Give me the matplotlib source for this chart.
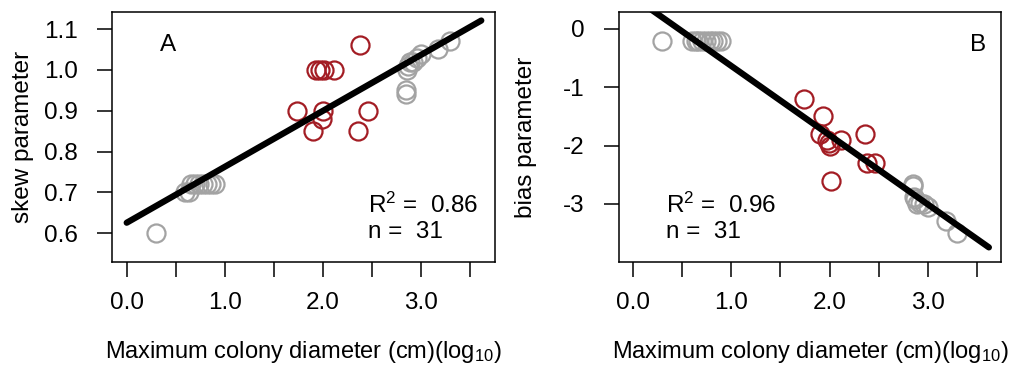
import matplotlib
matplotlib.use("Agg")
import matplotlib.pyplot as plt
import numpy as np

plt.rcParams['font.family'] = ['Liberation Sans', 'DejaVu Sans']
plt.rcParams['mathtext.fontset'] = 'custom'
plt.rcParams['mathtext.rm'] = 'Liberation Sans'
plt.rcParams['mathtext.it'] = 'Liberation Sans:italic'

# ---- data ----
grey_x = [0.30, 0.60, 0.64, 0.66, 0.70, 0.74, 0.78, 0.82, 0.86, 0.90,
          2.85, 2.85, 2.86, 2.87, 2.89, 2.92, 2.96, 3.00, 3.18, 3.30]
grey_skew = [0.60, 0.70, 0.70, 0.72, 0.72, 0.72, 0.72, 0.72, 0.72, 0.72,
             0.94, 0.95, 1.00, 1.01, 1.02, 1.02, 1.03, 1.04, 1.05, 1.07]
grey_bias = [-0.2, -0.2, -0.2, -0.2, -0.2, -0.2, -0.2, -0.2, -0.2, -0.2,
             -2.65, -2.70, -2.88, -2.92, -3.00, -2.98, -3.00, -3.05, -3.30, -3.50]

red_x = [1.74, 1.90, 1.93, 1.97, 1.99, 2.00, 2.01, 2.12, 2.36, 2.38, 2.46]
red_skew = [0.90, 0.85, 1.00, 1.00, 0.88, 0.90, 1.00, 1.00, 0.85, 1.06, 0.90]
red_bias = [-1.2, -1.8, -1.5, -1.9, -1.95, -2.0, -2.6, -1.9, -1.8, -2.3, -2.3]

line_x = [0.0, 3.62]
skew_fit = (0.626, 0.1367)   # intercept, slope
bias_fit = (0.556, -1.188)

x_ticks = [0.0, 0.5, 1.0, 1.5, 2.0, 2.5, 3.0, 3.5]
x_tick_labels = ['0.0', '', '1.0', '', '2.0', '', '3.0', '']
skew_ticks = [0.6, 0.7, 0.8, 0.9, 1.0, 1.1]
skew_tick_labels = ['0.6', '0.7', '0.8', '0.9', '1.0', '1.1']
bias_ticks = [0, -1, -2, -3]
bias_tick_labels = ['0', '-1', '-2', '-3']

stats_A = ('0.86', '31')
stats_B = ('0.96', '31')

GREY = '#a3a3a3'
RED = '#a31d24'
FS = 17.5

W, H = 1013, 366
fig = plt.figure(figsize=(W / 100, H / 100), dpi=100)

def add_ax(l, r, t, b):
    return fig.add_axes([l / W, 1 - b / H, (r - l) / W, (b - t) / H])

axA = add_ax(112.3, 495, 12.3, 261.7)
axB = add_ax(619, 1000.7, 12.3, 261.7)

def style(ax, yticks, ylabels, ylab, ylab_x):
    ax.set_xticks(x_ticks)
    ax.set_xticklabels(x_tick_labels)
    ax.set_yticks(yticks)
    ax.set_yticklabels(ylabels)
    ax.tick_params(direction='out', length=11, width=1.1, labelsize=FS, pad=11)
    ax.tick_params(axis='y', pad=14)
    for s in ax.spines.values():
        s.set_linewidth(1.1)
    ax.set_xlabel('Maximum colony diameter (cm)(log$_{10}$)', fontsize=17, labelpad=18)
    ax.set_ylabel(ylab, fontsize=FS)
    ax.yaxis.set_label_coords(ylab_x, 0.5)

mk = dict(marker='o', linestyle='none', markersize=13, markerfacecolor='none',
          markeredgewidth=1.6)

# Panel A
xs = np.array(line_x)
axA.plot(grey_x, grey_skew, markeredgecolor=GREY, **mk)
axA.plot(red_x, red_skew, markeredgecolor=RED, **mk)
axA.plot(xs, skew_fit[0] + skew_fit[1] * xs, color='black', lw=4.5, solid_capstyle='round')
axA.set_xlim(-0.147, 3.76)
axA.set_ylim(0.5306, 1.141)
style(axA, skew_ticks, skew_tick_labels, 'skew parameter', -0.205)
axA.text(0.42, 1.06, 'A', fontsize=FS, ha='center', va='center')
axA.text(2.46, 0.669, 'R$^{2}$ =  ' + stats_A[0], fontsize=FS, ha='left', va='center')
axA.text(2.46, 0.603, 'n =  ' + stats_A[1], fontsize=FS, ha='left', va='center')

# Panel B
axB.plot(grey_x, grey_bias, markeredgecolor=GREY, **mk)
axB.plot(red_x, red_bias, markeredgecolor=RED, **mk)
axB.plot(xs, bias_fit[0] + bias_fit[1] * xs, color='black', lw=4.5, solid_capstyle='round')
axB.set_xlim(-0.14, 3.74)
axB.set_ylim(-3.99, 0.286)
style(axB, bias_ticks, bias_tick_labels, 'bias parameter', -0.215)
axB.text(3.51, -0.27, 'B', fontsize=FS, ha='center', va='center')
axB.text(0.34, -3.02, 'R$^{2}$ =  ' + stats_B[0], fontsize=FS, ha='left', va='center')
axB.text(0.34, -3.48, 'n =  ' + stats_B[1], fontsize=FS, ha='left', va='center')

fig.savefig('out.png', dpi=100)
